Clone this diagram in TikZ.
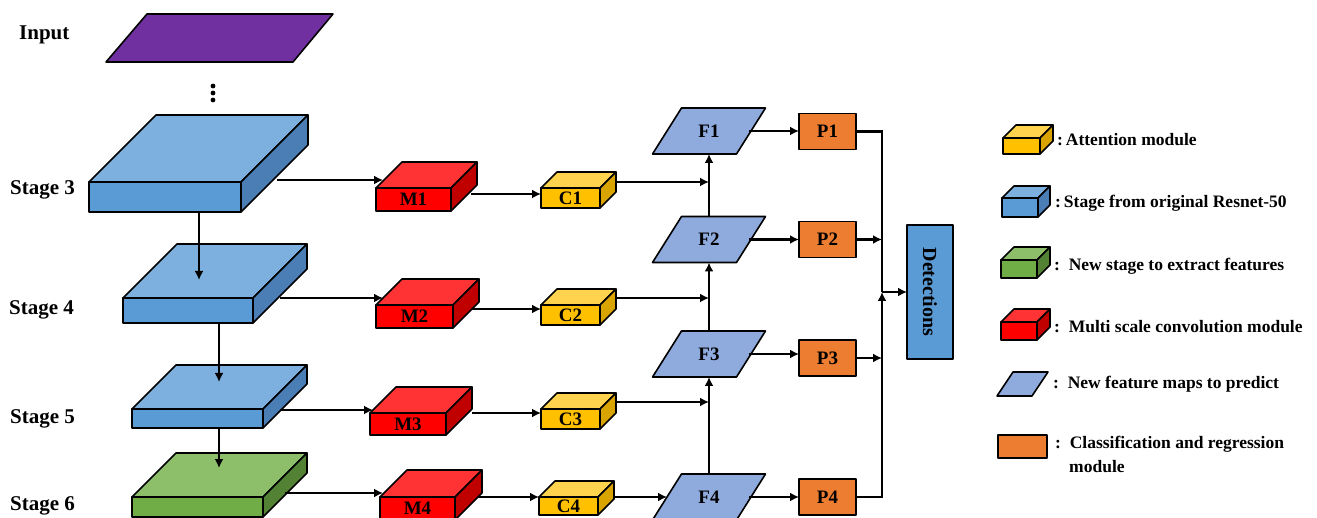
\documentclass[tikz,border=0pt]{standalone}
\usepackage{fontspec}
\usepackage{graphicx}
\setmainfont{Liberation Serif}
\usetikzlibrary{arrows.meta,calc}
\definecolor{purp}{HTML}{7030A0}
\definecolor{blueT}{HTML}{7DB0DF}
\definecolor{blueF}{HTML}{5B9BD5}
\definecolor{blueS}{HTML}{4A7EB5}
\definecolor{greenT}{HTML}{8DBF6B}
\definecolor{greenF}{HTML}{70AD47}
\definecolor{greenS}{HTML}{548235}
\definecolor{redT}{HTML}{FF3333}
\definecolor{redF}{HTML}{FF0000}
\definecolor{redS}{HTML}{C00000}
\definecolor{yelT}{HTML}{FFD34D}
\definecolor{yelF}{HTML}{FFC000}
\definecolor{yelS}{HTML}{D9A400}
\definecolor{fmapc}{HTML}{8FAADC}
\definecolor{orng}{HTML}{ED7D31}
\definecolor{detc}{HTML}{5B9BD5}
\newcommand\labfont{\fontsize{19}{21}\selectfont\bfseries}
\newcommand\stfont{\fontsize{21}{24}\selectfont\bfseries}
\newcommand\lgfont{\fontsize{17.5}{20}\selectfont\bfseries}
% #1 name, #2 x1, #3 y1, #4 x2, #5 y2, #6 depth, #7 colour prefix, #8 label
\newcommand\cube[8]{%
  \filldraw[bx, fill=#7T] (#2,#3) -- (#2+#6,#3-#6) -- (#4+#6,#3-#6) -- (#4,#3) -- cycle;
  \filldraw[bx, fill=#7S] (#4,#3) -- (#4+#6,#3-#6) -- (#4+#6,#5-#6) -- (#4,#5) -- cycle;
  \node[bx, fill=#7F, minimum width={(#4-#2)*1pt}, minimum height={(#5-#3)*1pt}, font=\labfont] (#1) at ({(#2+#4)/2},{(#3+#5)/2}) {#8};
}
% #1 name, #2 cx, #3 cy, #4 label
\newcommand\fmap[4]{%
  \filldraw[bx, fill=fmapc] (#2-27.5,#3-23) -- (#2+56.5,#3-23) -- (#2+27.5,#3+23) -- (#2-56.5,#3+23) -- cycle;
  \node[minimum width=80pt, minimum height=46pt, inner sep=0pt, outer sep=0pt, font=\labfont] (#1) at (#2,#3) {#4};
}
\begin{document}
\begin{tikzpicture}[x=1pt,y=-1pt,
  bx/.style={draw=black, line width=1.6pt, line join=round, inner sep=0pt, outer sep=0pt},
  arr/.style={line width=2.6pt, -{Latex[length=9pt,width=9pt]}},
  ln/.style={line width=2.6pt},
  pbox/.style={bx, fill=orng, minimum width=57pt, minimum height=36pt, font=\labfont},
  stlab/.style={anchor=base west, inner sep=0pt, font=\stfont},
  lglab/.style={anchor=west, inner sep=0pt, font=\lgfont}]
\useasboundingbox (0,0) rectangle (1317,518);
\clip (0,0) rectangle (1317,518);

% input
\filldraw[bx, fill=purp] (147,14) -- (333,14) -- (293,62) -- (106,62) -- cycle;
\node[stlab] (tin) at (19,40) {Input};
\fill (213,86) circle (2.4) (213,93) circle (2.4) (213,100) circle (2.4);

% stages
\cube{S3}{89}{182}{241}{212}{67}{blue}{}
\cube{S4}{123}{298}{253}{323}{54}{blue}{}
\cube{S5}{132}{409}{263}{428}{44}{blue}{}
\cube{S6}{132}{497}{263}{517}{44}{green}{}
\node[stlab] (t3) at (10,195) {Stage 3};
\node[stlab] (t4) at (9,315) {Stage 4};
\node[stlab] (t5) at (10,423) {Stage 5};
\node[stlab] (t6) at (10,510) {Stage 6};

\coordinate (s4t) at (199,280);
\coordinate (s5t) at (219,382);
\coordinate (s6t) at (219,468);
\draw[arr] (s4t |- S3.south) -- (s4t);
\draw[arr] (s5t |- S4.south) -- (s5t);
\draw[arr] (s6t |- S5.south) -- (s6t);

% M modules
\cube{M1}{376}{188}{451}{211}{26}{red}{M1}
\cube{M2}{376}{305}{453}{328}{26}{red}{M2}
\cube{M3}{370}{413}{446}{435}{26}{red}{M3}
\cube{M4}{380}{497}{455}{520}{27}{red}{M4}

% C modules
\cube{C1}{541}{188}{600}{208}{16}{yel}{C1}
\cube{C2}{541}{305}{600}{325}{16}{yel}{C2}
\cube{C3}{541}{409}{600}{429}{16}{yel}{C3}
\cube{C4}{539}{497}{598}{515}{16}{yel}{C4}

% stage -> M
\coordinate (s3o) at (277,180); \coordinate (m1i) at (383,180);
\coordinate (s4o) at (280,298); \coordinate (m2i) at (383,298);
\coordinate (s5o) at (280,410); \coordinate (m3i) at (373,410);
\coordinate (s6o) at (285,493); \coordinate (m4i) at (383,493);
\draw[arr] (s3o) -- (m1i);
\draw[arr] (s4o) -- (m2i);
\draw[arr] (s5o) -- (m3i);
\draw[arr] (s6o) -- (m4i);

% M -> C
\coordinate (m1o) at (471,194);
\coordinate (m2o) at (472,309);
\coordinate (m3o) at (472,413);
\coordinate (m4o) at (477,497);
\draw[arr] (m1o) -- (m1o -| C1.west);
\draw[arr] (m2o) -- (m2o -| C2.west);
\draw[arr] (m3o) -- (m3o -| C3.west);
\draw[arr] (m4o) -- (m4o -| C4.west);

% F maps
\fmap{F1}{709}{131}{F1}
\fmap{F2}{709}{239.5}{F2}
\fmap{F3}{709}{354}{F3}
\fmap{F4}{709}{497}{F4}

% C -> F
\coordinate (c1o) at (616,182);
\coordinate (c2o) at (616,298);
\coordinate (c3o) at (616,402);
\coordinate (c4o) at (613,497);
\coordinate (f4i) at (667,497);
\draw[arr] (c1o) -- (c1o -| F1.south);
\draw[arr] (c2o) -- (c2o -| F2.south);
\draw[arr] (c3o) -- (c3o -| F3.south);
\draw[arr] (c4o) -- (f4i);

% F upward
\draw[arr] (F4.north) -- (F3.south);
\draw[arr] (F3.north) -- (F2.south);
\draw[arr] (F2.north) -- (F1.south);

% P boxes
\node[pbox] (P1) at (827.5,131.5) {P1};
\node[pbox] (P2) at (827.5,239.5) {P2};
\node[pbox] (P3) at (827.5,358) {P3};
\node[pbox] (P4) at (827.5,497) {P4};
\draw[arr] (F1.east) -- (F1.east -| P1.west);
\draw[arr] (F2.east) -- (F2.east -| P2.west);
\draw[arr] (F3.east) -- (F3.east -| P3.west);
\draw[arr] (F4.east) -- (F4.east -| P4.west);

% detections
\node[bx, fill=detc, minimum width=46pt, minimum height=134pt, font=\fontsize{20}{22}\selectfont\bfseries] (D) at (930,292) {\rotatebox{-90}{Detections}};
\coordinate (junc) at (882,292);
\draw[ln] (P1.east) -| (junc);
\draw[arr] (P4.east) -| (junc);
\draw[arr] (P2.east) -- (P2.east -| junc);
\draw[arr] (P3.east) -- (P3.east -| junc);
\draw[arr] (junc) -- (junc -| D.west);

% legend
\cube{LA}{1003}{138}{1040}{154}{13}{yel}{}
\cube{LB}{1002}{198}{1038}{217}{12}{blue}{}
\cube{LC}{1001}{260}{1037}{278}{13}{green}{}
\cube{LD}{1001}{322}{1037}{340}{13}{red}{}
\filldraw[bx, fill=fmapc] (1013,372) -- (1048,372) -- (1032,396) -- (997,396) -- cycle;
\coordinate (LE) at (1022,384);
\node[bx, fill=orng, minimum width=49pt, minimum height=23pt] (LF) at (1022.5,446.5) {};
\node[lglab] (la) at (1057,140) {:\,Attention module};
\node[lglab] (lb) at (1055,203) {:\,Stage from original Resnet-50};
\node[lglab] (lc) at (1054,266) {:\ \ New stage to extract features};
\node[lglab] (ld) at (1054,327) {:\ \ Multi scale convolution module};
\node[lglab] (le) at (1053,384) {:\ \ New feature maps to predict};
\node[lglab] (lf) at (1055,444) {:\ \ Classification and regression};
\node[lglab] (lf2) at (1069,467) {module};
\end{tikzpicture}
\end{document}
